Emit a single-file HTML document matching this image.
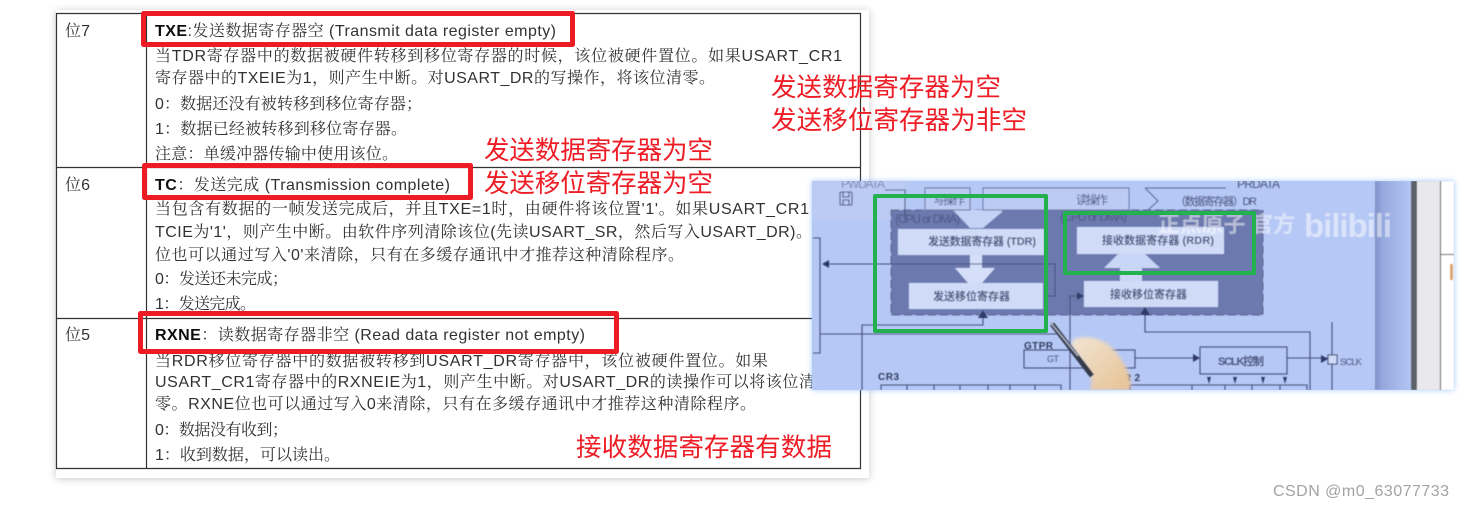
<!DOCTYPE html>
<html><head><meta charset="utf-8">
<style>
html,body{margin:0;padding:0;background:#fff;width:1464px;height:509px;overflow:hidden}
svg{position:absolute;left:0;top:0;display:block}
.d{font:16px "Liberation Sans","Noto Serif CJK SC",serif;fill:#333}
.r{font:25.5px "Liberation Sans","Noto Sans CJK SC",sans-serif;fill:#ee1c25}
.i{font-family:"Liberation Sans","Noto Sans CJK SC",sans-serif;fill:#4c5680}
</style></head><body>
<svg width="1464" height="509" viewBox="0 0 1464 509" xmlns="http://www.w3.org/2000/svg">
<defs>
<filter id="s" x="-5%" y="-5%" width="110%" height="110%"><feDropShadow dx="0" dy="1" stdDeviation="4" flood-color="#000" flood-opacity=".22"/></filter>
<filter id="t"><feGaussianBlur stdDeviation=".35"/></filter>
<filter id="v"><feGaussianBlur stdDeviation=".6"/></filter>
<filter id="g" x="-3%" y="-5%" width="106%" height="110%"><feDropShadow dx="0" dy="0" stdDeviation="3" flood-color="#6fa8ff" flood-opacity=".6"/></filter>
<filter id="h"><feGaussianBlur stdDeviation="1.500"/></filter>
<linearGradient id="sd" x1="0" x2="1"><stop offset="0" stop-color="#7f90c6"/><stop offset=".2" stop-color="#95a8de"/><stop offset="1" stop-color="#b3c5f3"/></linearGradient>
<linearGradient id="hand" x1="0" x2="1" y1="0" y2="1"><stop offset="0" stop-color="#f2e4d2"/><stop offset="1" stop-color="#e6c294"/></linearGradient>
</defs>

<rect x="56" y="10" width="813" height="468" fill="#fff" filter="url(#s)"/>
<g stroke="#333" stroke-width="1.2" fill="none">
<path d="M56.500 13.500H860.500V468.500H56.500Z"/>
<path d="M146.500 13V468"/>
<path d="M56 167.500H860"/>
<path d="M56 318.500H860"/>
</g>

<g filter="url(#t)" class="d">
<text x="65" y="36" textLength="25">位7</text>
<text x="65" y="190" textLength="25">位6</text>
<text x="65" y="340" textLength="25">位5</text>

<text x="155" y="36" textLength="401"><tspan font-weight="700" fill="#111">TXE</tspan>:发送数据寄存器空 (Transmit data register empty)</text>
<text x="155" y="61" textLength="687">当TDR寄存器中的数据被硬件转移到移位寄存器的时候，该位被硬件置位。如果USART_CR1</text>
<text x="155" y="83" textLength="560">寄存器中的TXEIE为1，则产生中断。对USART_DR的写操作，将该位清零。</text>
<text x="155" y="109" textLength="267">0：数据还没有被转移到移位寄存器；</text>
<text x="155" y="134" textLength="252">1：数据已经被转移到移位寄存器。</text>
<text x="155" y="159" textLength="243">注意：单缓冲器传输中使用该位。</text>

<text x="155" y="190" textLength="295"><tspan font-weight="700" fill="#111">TC</tspan>：发送完成 (Transmission complete)</text>
<text x="155" y="214" textLength="654">当包含有数据的一帧发送完成后，并且TXE=1时，由硬件将该位置'1'。如果USART_CR1</text>
<text x="155" y="237" textLength="657">TCIE为'1'，则产生中断。由软件序列清除该位(先读USART_SR，然后写入USART_DR)。</text>
<text x="155" y="260" textLength="529">位也可以通过写入'0'来清除，只有在多缓存通讯中才推荐这种清除程序。</text>
<text x="155" y="284" textLength="133">0：发送还未完成；</text>
<text x="155" y="309" textLength="101">1：发送完成。</text>

<text x="155" y="340" textLength="430"><tspan font-weight="700" fill="#111">RXNE</tspan>：读数据寄存器非空 (Read data register not empty)</text>
<text x="155" y="366" textLength="613">当RDR移位寄存器中的数据被转移到USART_DR寄存器中，该位被硬件置位。如果</text>
<text x="155" y="387" textLength="660">USART_CR1寄存器中的RXNEIE为1，则产生中断。对USART_DR的读操作可以将该位清</text>
<text x="155" y="409" textLength="601">零。RXNE位也可以通过写入0来清除，只有在多缓存通讯中才推荐这种清除程序。</text>
<text x="155" y="435" textLength="133">0：数据没有收到；</text>
<text x="155" y="460" textLength="185">1：收到数据，可以读出。</text>
</g>

<!-- video still -->
<g filter="url(#g)"><rect x="812" y="181" width="642" height="209" fill="#b6c8f5"/></g>
<svg x="812" y="181" width="642" height="209" viewBox="812 181 642 209">
<g filter="url(#v)">
<rect x="812" y="181" width="94" height="38" fill="#bccbf3"/>
<rect x="1375" y="181" width="36" height="209" fill="url(#sd)"/>
<rect x="1411" y="181" width="6" height="209" fill="#5c6068"/>
<rect x="1417" y="181" width="23" height="209" fill="#e9e9ec"/>
<rect x="1440" y="181" width="14" height="209" fill="#fff"/>
<path d="M1440.500 181V390M1440 254.500H1454" stroke="#222" stroke-width="1"/>
<rect x="1450" y="264" width="3" height="16" fill="#d9a56d"/>

<!-- dark register band -->
<rect x="891" y="210" width="372" height="105" fill="#6c79af"/>
<path d="M891 210H1263V315H891Z" fill="none" stroke="#58648f" stroke-width="1" stroke-dasharray="8 4"/>

<!-- top operation shapes -->
<path d="M953 210L970 228H983L1002 212V210Z" fill="#c4d2f6"/>
<path d="M1119 210L1100 228H1060V210Z" fill="#6c79af"/>
<rect x="983" y="188" width="146" height="22" fill="#bccbf3" stroke="#66729f" stroke-width="1"/>
<rect x="925" y="188" width="45" height="22" fill="#bccbf3" stroke="#66729f" stroke-width="1"/>
<path d="M1145 188H1226M1145 188L1158 201L1148 210" fill="none" stroke="#5d6a98" stroke-width="1"/>

<!-- white registers -->
<rect x="898" y="229" width="146" height="26" fill="#d0dbf8"/>
<rect x="909" y="283" width="134" height="26" fill="#d0dbf8"/>
<rect x="1077" y="227" width="147" height="27" fill="#d0dbf8"/>
<rect x="1084" y="281" width="134" height="26" fill="#d0dbf8"/>
<!-- arrows -->
<path d="M970 255H982V268H995L982 283H968L955 268H970Z" fill="#d5dff9"/>
<path d="M1118 254H1145L1160 268H1104Z" fill="#c9d6f7"/>
<path d="M1120 268H1142V281H1120Z" fill="#c9d6f7"/>

<!-- connectors -->
<g fill="none" stroke="#44507c" stroke-width="1.100">
<path d="M813 238H820V353H813"/>
<path d="M825 264H1055V296H1043"/>
<path d="M820 334H1060"/>
<path d="M862 390V325H983V312"/>
<path d="M1070 390V296H1082"/>
<path d="M1145 312V332H1310V390"/>
<path d="M1135 358H1198"/>
<path d="M1287 358H1328"/>
<path d="M1332 322V355M1332 364V390"/>
<rect x="1024" y="350" width="111" height="18"/>
<rect x="1200" y="347" width="87" height="27"/>
<rect x="1328" y="355" width="9" height="9" fill="#d0dbf8"/>
<path d="M881 390V385H1061V390M907 385V390M934 385V390M960 385V390M988 385V390M1010 385V390M1035 385V390"/>
<path d="M1130 390V385H1307V390M1192 385V390M1225 385V390M1252 385V390M1280 385V390"/>
<rect x="840" y="192" width="12" height="13" rx="1"/>
<path d="M843 192V197H849V192M843 205V200H849V205"/>
<path d="M885 190H905V220"/>
</g>
<g fill="#2e3a68">
<path d="M822 264L829 260V268Z"/>
<path d="M983 310L978 318H988Z"/>
<path d="M1084 296L1077 292V300Z"/>
<path d="M1145 307L1140 315H1150Z"/>
<path d="M1200 358L1193 354V362Z"/>
<path d="M1328 359L1321 355V363Z"/>
<path d="M1209 384L1207 377H1211Z"/><path d="M1235 384L1233 377H1237Z"/><path d="M1263 384L1261 377H1265Z"/><path d="M1285 384L1283 377H1287Z"/>
</g>

<!-- labels -->
<g class="i">
<text x="841" y="188" font-size="12" textLength="44" fill="#7d88ad">PWDATA</text>
<text x="1237" y="188" font-size="12" textLength="43">PRDATA</text>
<text x="933" y="204" font-size="12" textLength="32">写操作</text>
<text x="1076" y="204" font-size="12" textLength="32">读操作</text>
<text x="1175" y="205" font-size="11" textLength="82">（数据寄存器）DR</text>
<text x="895" y="223" font-size="12" textLength="65">(CPU or DMA)</text>
<text x="1060" y="221" font-size="12" textLength="67">(CPU or DMA)</text>
<text x="928" y="245" font-size="11" font-weight="700" textLength="108">发送数据寄存器 (TDR)</text>
<text x="933" y="300" font-size="11" font-weight="700" textLength="77">发送移位寄存器</text>
<text x="1102" y="244" font-size="11" font-weight="700" textLength="112">接收数据寄存器 (RDR)</text>
<text x="1110" y="298" font-size="11" font-weight="700" textLength="77">接收移位寄存器</text>
<text x="1024" y="349" font-size="10" font-weight="700" textLength="29" fill="#333c60">GTPR</text>
<text x="1047" y="362" font-size="9" textLength="12">GT</text>
<text x="1218" y="365" font-size="11" font-weight="700" textLength="46">SCLK控制</text>
<text x="1340" y="365" font-size="9.500" textLength="22">SCLK</text>
<text x="878" y="380" font-size="10" font-weight="700" textLength="21" fill="#333c60">CR3</text>
<text x="1124" y="381" font-size="10" font-weight="700" textLength="16" fill="#333c60">R2</text>
</g>

<!-- watermark -->
<g fill="#fff" fill-opacity=".5" font-family="'Liberation Sans','Noto Sans CJK SC',sans-serif" font-weight="700">
<text x="1158" y="232" font-size="22" textLength="137">正点原子 官方</text>
<text x="1304" y="237" font-size="33" textLength="88">bilibili</text>
</g>

<!-- hand and pen -->
<path d="M1074 339C1090 334 1108 340 1118 355C1128 368 1132 380 1130 390H1090C1094 378 1090 368 1080 358C1073 350 1070 344 1074 339Z" fill="url(#hand)" filter="url(#h)"/>
<path d="M1052 324L1092 376" stroke="#363a4c" stroke-width="5"/>
<path d="M1050 322L1078 356" stroke="#aab0c6" stroke-width="1.500"/>
</g>
</svg>

<!-- green boxes -->
<g fill="none" stroke="#22b14c" stroke-width="4" stroke-linejoin="round">
<rect x="875" y="196" width="171" height="135"/>
<rect x="1065" y="213" width="189" height="60"/>
</g>

<!-- red boxes -->
<g fill="none" stroke="#ed1c24" stroke-width="5" stroke-linejoin="round">
<rect x="143.500" y="13.500" width="429" height="31"/>
<rect x="144.500" y="165.500" width="326" height="32"/>
<rect x="140.500" y="313.500" width="476" height="38"/>
</g>

<g class="r">
<text x="771" y="96" textLength="230">发送数据寄存器为空</text>
<text x="771" y="129" textLength="256">发送移位寄存器为非空</text>
<text x="484" y="159" textLength="229">发送数据寄存器为空</text>
<text x="484" y="192" textLength="229">发送移位寄存器为空</text>
<text x="576" y="456" textLength="256">接收数据寄存器有数据</text>
</g>

<text x="1273" y="496" font-family="'Liberation Sans',sans-serif" font-size="16" fill="#a3a3a3" textLength="176">CSDN @m0_63077733</text>
</svg>
</body></html>
